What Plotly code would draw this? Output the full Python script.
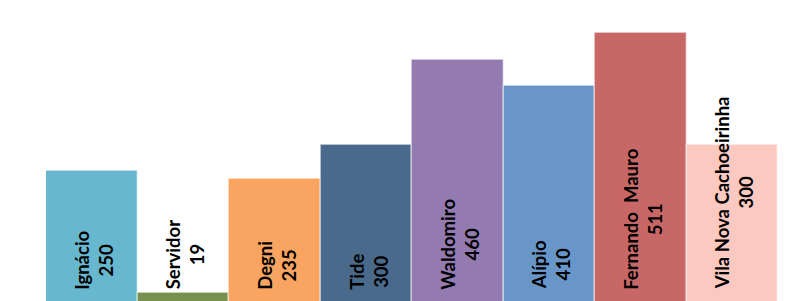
import plotly.graph_objects as go

categories = ["Ignácio", "Servidor", "Degni", "Tide", "Waldomiro", "Alípio", "Fernando  Mauro", "Vila Nova Cachoeirinha"]
values = [250, 19, 235, 300, 460, 410, 511, 300]
colors = ["#67B8CF", "#77904D", "#F9A460", "#4A6A8C", "#937AB0", "#6896C8", "#C86866", "#FBC9C0"]

fig = go.Figure()
fig.add_trace(go.Bar(
    x=list(range(len(categories))),
    y=values,
    marker=dict(color=colors, line=dict(color="rgba(255,255,255,0.45)", width=1.5)),
    hoverinfo="skip",
))

lab_font = dict(family="Lato", size=18.5, color="black", weight="bold")
for i, (c, v) in enumerate(zip(categories, values)):
    fig.add_annotation(
        x=i, y=22, text=f"{c}<br>{v}", showarrow=False, textangle=-90,
        xanchor="center", yanchor="bottom", align="center", xshift=2, font=lab_font,
    )

fig.update_layout(
    width=789, height=301,
    margin=dict(l=38, r=19, t=0, b=0),
    paper_bgcolor="white", plot_bgcolor="white",
    bargap=0, showlegend=False,
    xaxis=dict(range=[-0.5, 7.5], visible=False, fixedrange=True),
    yaxis=dict(range=[-11, 558.3], visible=False, fixedrange=True),
)
fig.write_html("out.html")
